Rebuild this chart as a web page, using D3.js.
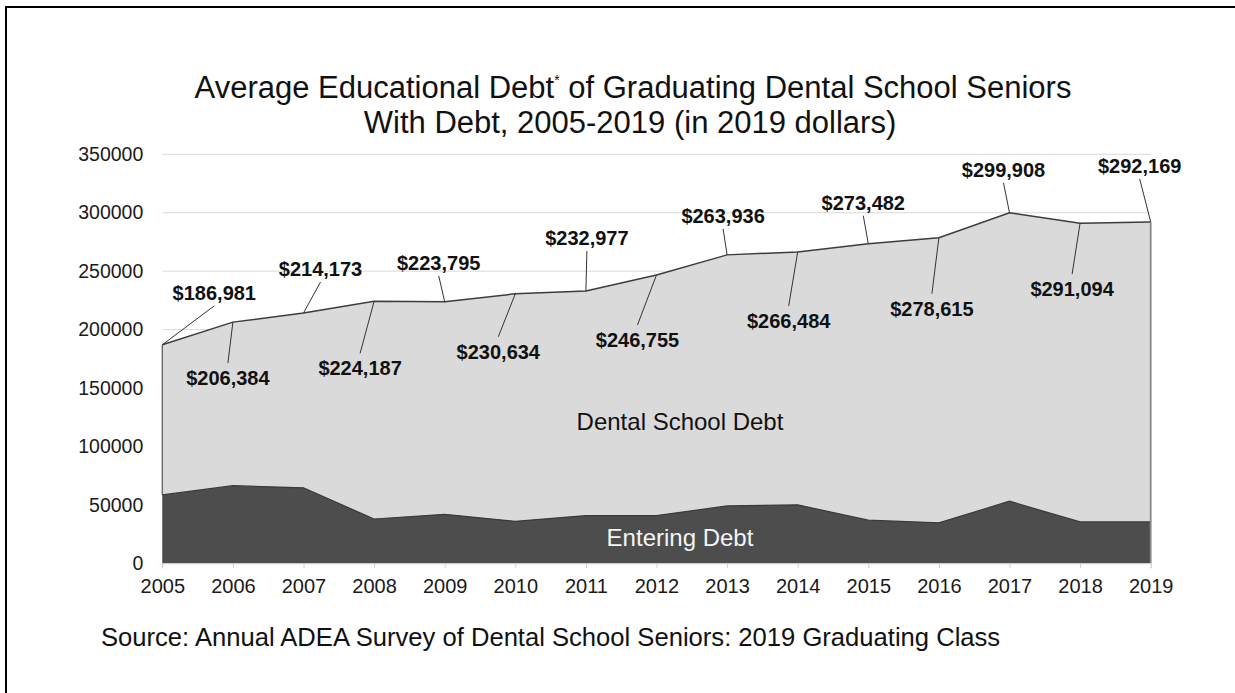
<!DOCTYPE html>
<html>
<head>
<meta charset="utf-8">
<script src="https://cdn.jsdelivr.net/npm/d3@7"></script>
<style>
  html, body { margin: 0; padding: 0; background: #fff; overflow: hidden; }
  svg { display: block; font-family: "Liberation Sans", Arial, sans-serif; }
</style>
</head>
<body>
<svg id="chart" width="1235" height="693"></svg>
<script>
// Graduation years
const years = [2005, 2006, 2007, 2008, 2009, 2010, 2011, 2012, 2013, 2014, 2015, 2016, 2017, 2018, 2019];

// Total average educational debt (2019 dollars)
const totalDebt = [186981, 206384, 214173, 224187, 223795, 230634, 232977, 246755,
                   263936, 266484, 273482, 278615, 299908, 291094, 292169];

// Debt carried in on entering dental school
const enteringDebt = [58500, 66400, 64600, 37900, 41900, 35900, 40800, 40800,
                      49100, 50000, 36900, 34600, 53100, 35400, 35400];

// Y axis tick values
const yTicks = [0, 50000, 100000, 150000, 200000, 250000, 300000, 350000];

// Callout placement per year: [dx, dy] from the point to the label baseline centre
const calloutOffsets = [[52, -45], [-5, 63], [17, -37], [-14, 74], [-6, -32], [-17, 65], [1, -46],
                        [-19, 72], [-4, -32], [-9, 76], [-5, -34], [-7, 78], [-6, -36], [-8, 73], [-11, -49]];

const svg = d3.select("#chart");

// Outer frame: only its top and left edges fall inside the page
svg.append("path")
  .attr("d", "M6,693 L6,7 L1235,7")
  .attr("fill", "none").attr("stroke", "#000").attr("stroke-width", 2);

const x = d3.scaleLinear().domain([2005, 2019]).range([162.3, 1150.7]);
const y = d3.scaleLinear().domain([0, 350000]).range([563.3, 154.3]);

// Title
const title = svg.append("text")
  .attr("text-anchor", "middle")
  .attr("font-size", 31)
  .attr("fill", "#111");
const t1 = title.append("tspan").attr("x", 633).attr("y", 98);
t1.append("tspan").text("Average Educational Debt");
t1.append("tspan").attr("font-size", 14).attr("dy", -13).text("*");
t1.append("tspan").attr("dy", 13).text(" of Graduating Dental School Seniors");
title.append("tspan").attr("x", 630).attr("y", 133)
  .text("With Debt, 2005-2019 (in 2019 dollars)");

// Horizontal gridlines
svg.append("g")
  .selectAll("line")
  .data(yTicks)
  .join("line")
  .attr("x1", x(2005)).attr("x2", x(2019))
  .attr("y1", d => y(d)).attr("y2", d => y(d))
  .attr("stroke", "#d9d9d9").attr("stroke-width", 1);

const rows = years.map((yr, i) => ({ year: yr, total: totalDebt[i], entering: enteringDebt[i], off: calloutOffsets[i] }));

// Dental school debt (total) area
const totalArea = d3.area().x(d => x(d.year)).y0(y(0)).y1(d => y(d.total));
svg.append("path").datum(rows).attr("d", totalArea).attr("fill", "#dadada");

// Entering debt area
const enterArea = d3.area().x(d => x(d.year)).y0(y(0)).y1(d => y(d.entering));
svg.append("path").datum(rows).attr("d", enterArea).attr("fill", "#4d4d4d");
svg.append("path").datum(rows)
  .attr("d", d3.line().x(d => x(d.year)).y(d => y(d.entering)))
  .attr("fill", "none").attr("stroke", "#3a3a3a").attr("stroke-width", 1.2);

// Outline of the total area
svg.append("path").datum(rows)
  .attr("d", d3.line().x(d => x(d.year)).y(d => y(d.total)))
  .attr("fill", "none").attr("stroke", "#3c3c3c").attr("stroke-width", 1.5);
svg.append("line")
  .attr("x1", x(2005)).attr("x2", x(2005))
  .attr("y1", y(totalDebt[0])).attr("y2", y(enteringDebt[0]))
  .attr("stroke", "#555").attr("stroke-width", 1.2);
svg.append("line")
  .attr("x1", x(2019)).attr("x2", x(2019))
  .attr("y1", y(totalDebt[totalDebt.length - 1])).attr("y2", y(0))
  .attr("stroke", "#8a8a8a").attr("stroke-width", 1.8);

// X axis
const xAxis = svg.append("g")
  .attr("transform", `translate(0,${y(0)})`)
  .call(d3.axisBottom(x).tickValues(years).tickFormat(d3.format("d")).tickSize(5).tickPadding(11));
xAxis.select(".domain").attr("stroke", "#d9d9d9");
xAxis.selectAll(".tick line").attr("stroke", "#d0d0d0");
xAxis.selectAll(".tick text")
  .attr("font-family", "Liberation Sans, Arial, sans-serif")
  .attr("font-size", 20).attr("fill", "#1a1a1a");

// Y axis
const yAxis = svg.append("g")
  .attr("transform", `translate(${x(2005)},0)`)
  .call(d3.axisLeft(y).tickValues(yTicks).tickFormat(d3.format("d")).tickSize(0).tickPadding(19));
yAxis.select(".domain").remove();
yAxis.selectAll(".tick text")
  .attr("font-family", "Liberation Sans, Arial, sans-serif")
  .attr("font-size", 19.5).attr("fill", "#1a1a1a");

// Series labels
svg.append("text")
  .attr("x", 680).attr("y", 430)
  .attr("text-anchor", "middle").attr("font-size", 24).attr("fill", "#111")
  .text("Dental School Debt");
svg.append("text")
  .attr("x", 680).attr("y", 546)
  .attr("text-anchor", "middle").attr("font-size", 24).attr("fill", "#f4f4f4")
  .text("Entering Debt");

// Value callouts with leader lines
const fmt = d3.format("$,");
const callouts = svg.append("g").selectAll("g").data(rows).join("g");
callouts.append("line")
  .attr("x1", d => x(d.year)).attr("y1", d => y(d.total))
  .attr("x2", d => x(d.year) + d.off[0])
  .attr("y2", d => y(d.total) + d.off[1] + (d.off[1] < 0 ? 6 : -22))
  .attr("stroke", "#333").attr("stroke-width", 1);
callouts.append("text")
  .attr("x", d => x(d.year) + d.off[0])
  .attr("y", d => y(d.total) + d.off[1])
  .attr("text-anchor", "middle")
  .attr("font-size", 20).attr("font-weight", "bold").attr("fill", "#111")
  .text(d => fmt(d.total));

// Source note
svg.append("text")
  .attr("x", 101).attr("y", 646)
  .attr("font-size", 25.6).attr("fill", "#111")
  .text("Source: Annual ADEA Survey of Dental School Seniors: 2019 Graduating Class");
</script>
</body>
</html>
